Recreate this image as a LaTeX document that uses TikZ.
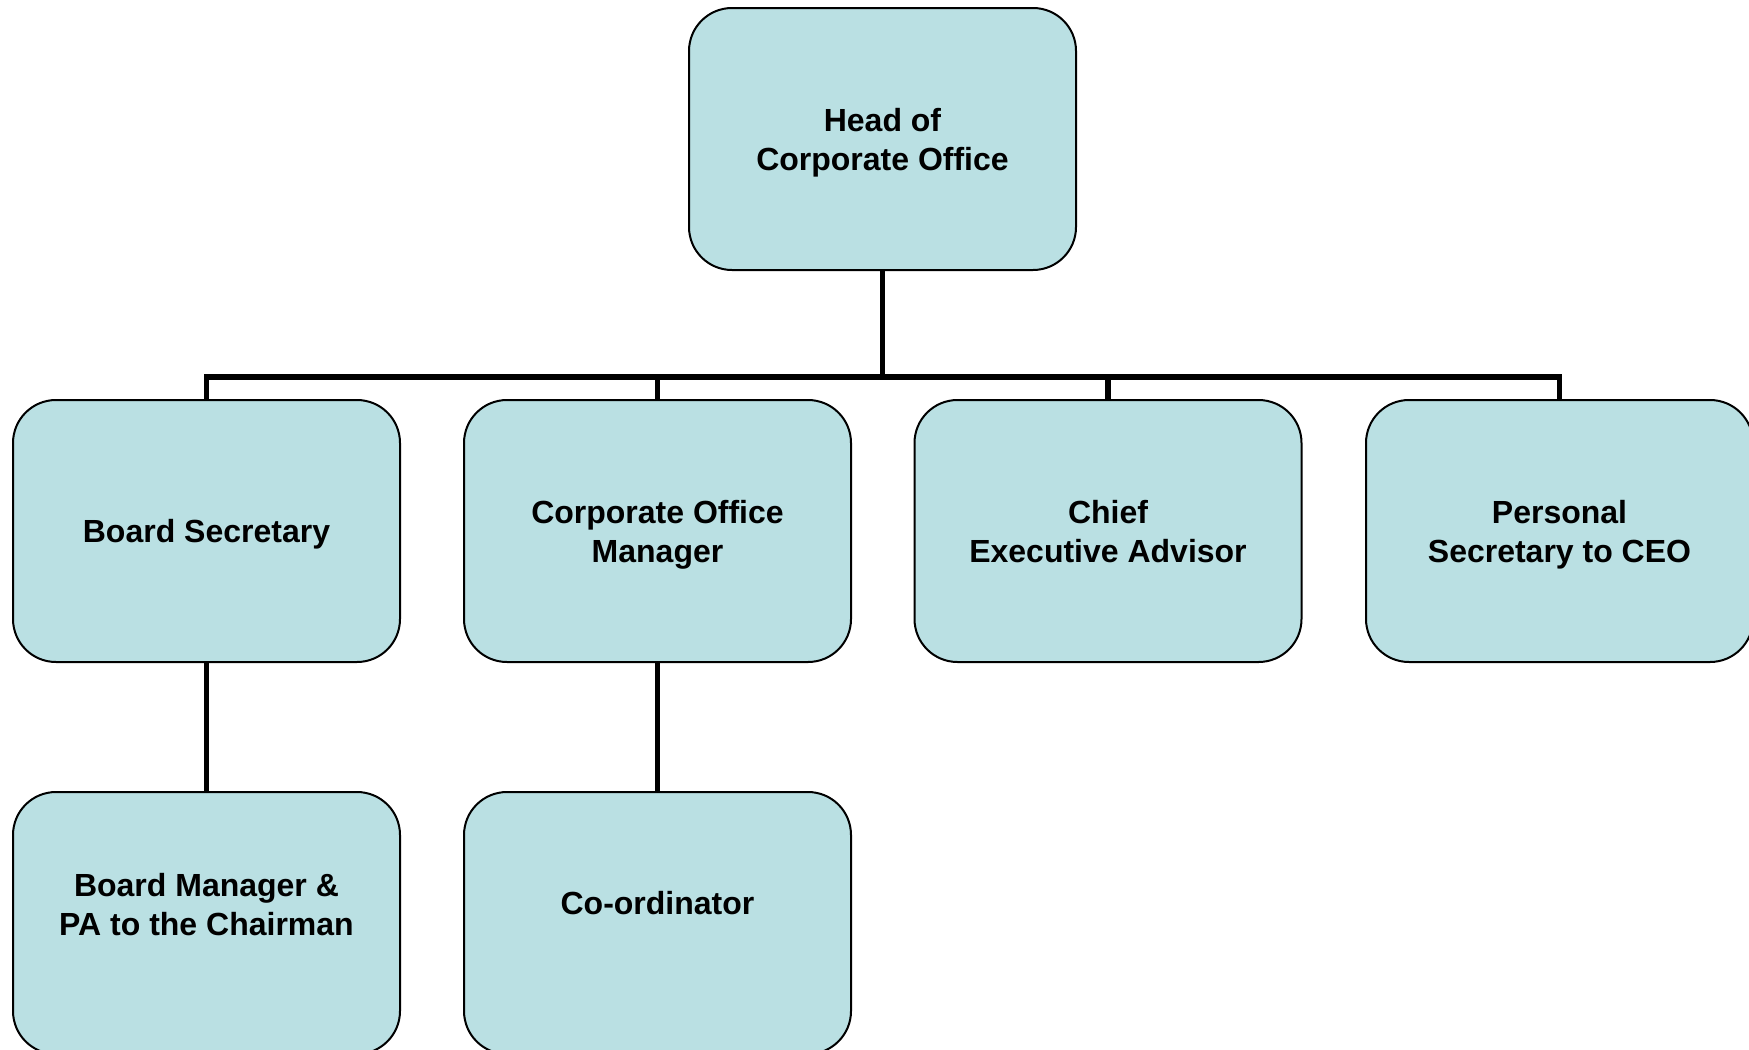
\documentclass[tikz,border=0pt]{standalone}
\usepackage{fontspec}
\setmainfont{Liberation Sans}
\definecolor{boxfill}{RGB}{186,224,227}
\tikzset{
  orgbox/.style={draw=black, line width=1pt, fill=boxfill, rounded corners=21.5pt,
    minimum width=193.5pt, minimum height=131pt, inner sep=0pt},
  orgtext/.style={align=center, inner sep=0pt, font=\fontsize{16}{19.5}\selectfont\bfseries},
  conn/.style={draw=black, line width=2.7pt, line join=miter}
}
\begin{document}
\begin{tikzpicture}[x=0.5pt,y=-0.5pt]
\useasboundingbox (0,0) rectangle (1749,1049);
\node[orgbox] (head) at (882.5,139) {};
\node[orgbox] (bs) at (206.5,531) {};
\node[orgbox] (com) at (657.5,531) {};
\node[orgbox] (cea) at (1108,531) {};
\node[orgbox] (ps) at (1559.5,531) {};
\node[orgbox] (bm) at (206.5,923) {};
\node[orgbox] (co) at (657.5,923) {};
\node[orgtext] (headt) at (882.5,143.5) {\strut Head of\strut\\\strut Corporate Office\strut};
\node[orgtext] (bst) at (206.5,535) {\strut Board Secretary\strut};
\node[orgtext] (comt) at (657.5,535.5) {\strut Corporate Office\strut\\\strut Manager\strut};
\node[orgtext] (ceat) at (1108,535.5) {\strut Chief\strut\\\strut Executive Advisor\strut};
\node[orgtext] (pst) at (1559.5,535.5) {\strut Personal\strut\\\strut Secretary to CEO\strut};
\node[orgtext] (bmt) at (206.5,908) {\strut Board Manager \&\strut\\\strut PA to the Chairman\strut};
\node[orgtext] (cot) at (657.5,907) {\strut Co-ordinator\strut};
\coordinate (bar) at (882.5,377);
\draw[conn] (head.south) -- (bar);
\draw[conn] (bs.north) -- (bs.north |- bar) -- (ps.north |- bar) -- (ps.north);
\draw[conn] (com.north) -- (com.north |- bar);
\draw[conn] (cea.north) -- (cea.north |- bar);
\draw[conn] (bs.south) -- (bm.north);
\draw[conn] (com.south) -- (co.north);
\end{tikzpicture}
\end{document}
